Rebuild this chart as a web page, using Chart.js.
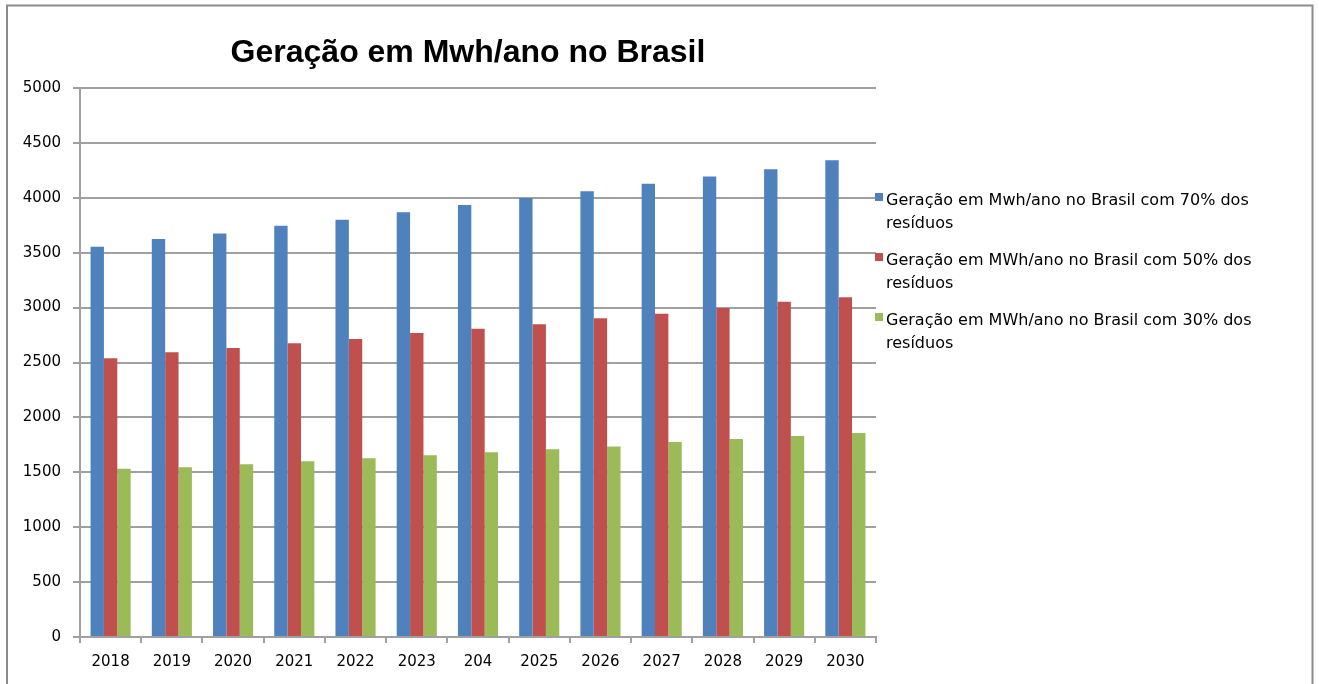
<!DOCTYPE html>
<html>
<head>
<meta charset="utf-8">
<script src="https://cdn.jsdelivr.net/npm/chart.js@4.4.0/dist/chart.umd.min.js"></script>
<style>
  html, body { margin: 0; padding: 0; background: #fff; }
  #wrap { width: 1319px; height: 684px; position: relative; }
</style>
</head>
<body>
<div id="wrap"><canvas id="chart" width="1319" height="684"></canvas></div>
<script>
// DATA
const years = ["2018", "2019", "2020", "2021", "2022", "2023", "204", "2025", "2026", "2027", "2028", "2029", "2030"];
const gen70 = [3555, 3625, 3676, 3746, 3801, 3868, 3934, 3998, 4059, 4129, 4193, 4259, 4341];
const gen50 = [2538, 2593, 2632, 2675, 2714, 2769, 2808, 2848, 2902, 2945, 2996, 3054, 3094];
const gen30 = [1533, 1545, 1573, 1600, 1627, 1655, 1682, 1709, 1736, 1776, 1803, 1831, 1858];
const seriesLabels = [
  "Geração em Mwh/ano no Brasil com 70% dos resíduos",
  "Geração em MWh/ano no Brasil com 50% dos resíduos",
  "Geração em MWh/ano no Brasil com 30% dos resíduos"
];
const yTicks = [0, 500, 1000, 1500, 2000, 2500, 3000, 3500, 4000, 4500, 5000];
const chartTitle = "Geração em Mwh/ano no Brasil";

const colors = ["#4F81BD", "#C0504D", "#9BBB59"];
const gridColor = "#a0a0a0";
const font = "'DejaVu Sans', sans-serif";

// frame, title and wrapped legend drawn on the canvas
const decorPlugin = {
  id: "decor",
  afterDraw(chart) {
    const c = chart.ctx;
    c.save();
    // outer frame
    c.strokeStyle = "#8c8c8c";
    c.lineWidth = 2;
    c.strokeRect(7, 5.5, 1305.5, 720);

    // title
    c.fillStyle = "#000";
    c.font = "bold 32px 'Liberation Sans', sans-serif";
    c.textAlign = "center";
    c.textBaseline = "alphabetic";
    c.fillText(chartTitle, 468, 62);

    // legend
    c.font = "16px " + font;
    c.textAlign = "left";
    c.textBaseline = "middle";
    chart.data.datasets.forEach((ds, i) => {
      const y0 = 201 + i * 60;
      c.fillStyle = ds.backgroundColor;
      c.fillRect(875, y0 - 8, 8, 8);
      const lines = wrap(c, ds.label, 390);
      c.fillStyle = "#000";
      lines.forEach((ln, j) => c.fillText(ln, 886, y0 + j * 23));
    });
    c.restore();
  }
};

function wrap(c, text, maxW) {
  const words = text.split(" ");
  const lines = [];
  let cur = "";
  words.forEach(w => {
    const test = cur ? cur + " " + w : w;
    if (c.measureText(test).width > maxW && cur) {
      lines.push(cur);
      cur = w;
    } else {
      cur = test;
    }
  });
  if (cur) lines.push(cur);
  return lines;
}

const ctx = document.getElementById("chart");
new Chart(ctx, {
  type: "bar",
  data: {
    labels: years,
    datasets: [gen70, gen50, gen30].map((d, i) => ({
      label: seriesLabels[i],
      data: d,
      backgroundColor: colors[i],
      borderWidth: 0,
      categoryPercentage: 0.655,
      barPercentage: 1
    }))
  },
  options: {
    responsive: false,
    animation: false,
    devicePixelRatio: 1,
    layout: { padding: { left: 0, top: 88, right: 443, bottom: 0 } },
    plugins: {
      legend: { display: false },
      title: { display: false },
      tooltip: { enabled: false }
    },
    scales: {
      x: {
        grid: {
          display: true,
          drawOnChartArea: false,
          drawTicks: true,
          tickLength: 6,
          color: gridColor,
          lineWidth: 2
        },
        border: { display: true, color: gridColor, width: 2 },
        ticks: { color: "#000", font: { family: font, size: 15 }, padding: 10, maxRotation: 0 },
        afterFit(scale) { scale.height = 47; }
      },
      y: {
        min: 0,
        max: 5000,
        afterBuildTicks(scale) { scale.ticks = yTicks.map(v => ({ value: v })); },
        grid: { color: gridColor, lineWidth: 2, tickLength: 7 },
        border: { display: true, color: gridColor, width: 2 },
        ticks: {
          color: "#000",
          font: { family: font, size: 15 },
          padding: 12,
          callback: v => String(v)
        },
        afterFit(scale) { scale.width = 80; }
      }
    }
  },
  plugins: [decorPlugin]
});
</script>
</body>
</html>
